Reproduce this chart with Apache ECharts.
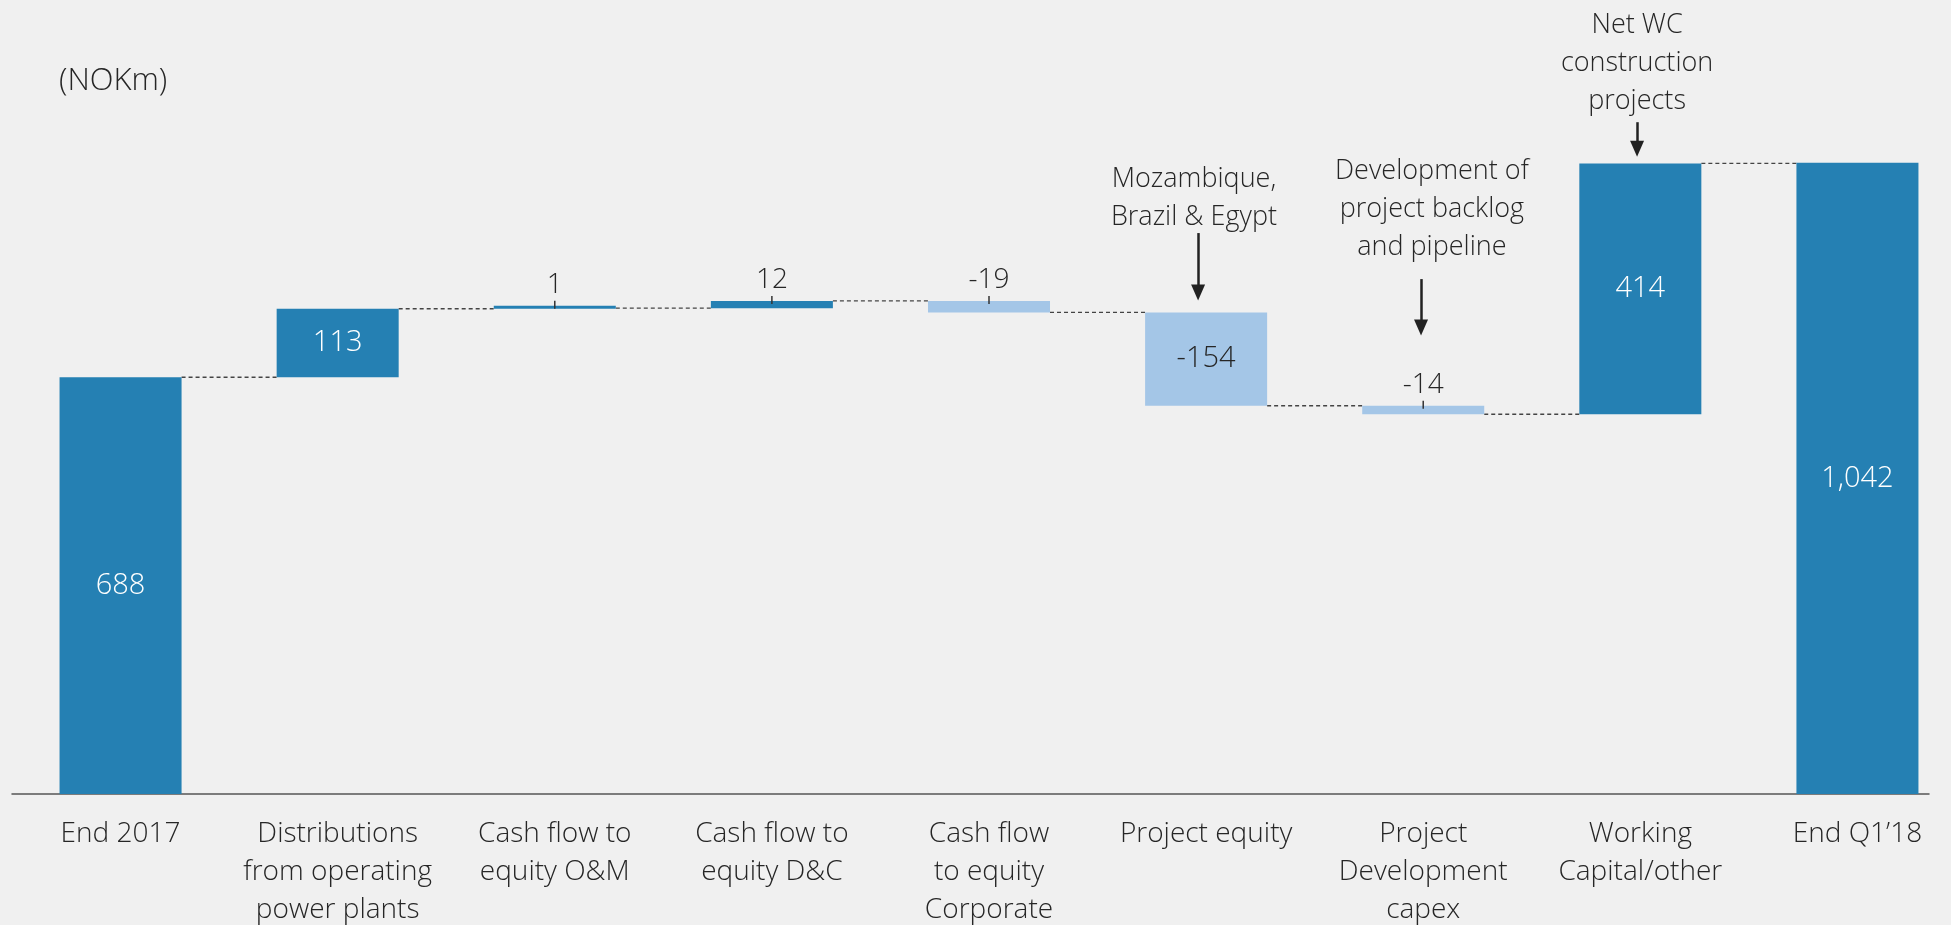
<!DOCTYPE html>
<html>
<head>
<meta charset="utf-8">
<script src="https://cdn.jsdelivr.net/npm/echarts@6/dist/echarts.min.js"></script>
<style>
html,body{margin:0;padding:0;background:#f0f0f0}
#main{width:1951px;height:925px}
</style>
</head>
<body>
<div id="main"></div>
<script>
// waterfall data (NOKm)
var categories = ['End 2017','Distributions\nfrom operating\npower plants','Cash flow to\nequity O&M','Cash flow to\nequity D&C','Cash flow\nto equity\nCorporate','Project equity','Project\nDevelopment\ncapex','Working\nCapital/other','End Q1\u201918'];
var deltas = [688,113,1,12,-19,-154,-14,414,1042];
var isTotal = [true,false,false,false,false,false,false,false,true];
var valueLabels = ['688','113','1','12','-19','-154','-14','414','1,042'];

// call-out notes with arrows (x on 0..8 category scale, y in NOKm)
var noteText = ['Mozambique,\nBrazil & Egypt','Development of\nproject backlog\nand pipeline','Net WC\nconstruction\nprojects'];
var noteTextX = [4.944, 6.04, 6.985];
var noteTextY = [984, 965, 1206];
var arrowX = [4.963, 5.99, 6.985];
var arrowFrom = [926, 850, 1109];
var arrowTo = [828, 770, 1065];

var darkBlue = '#2580b3';
var lightBlue = '#a4c6e7';
var textColor = '#262626';
var font = "'Open Sans', sans-serif";
var fw = 300;
var barRatio = 0.562;

var baseData = [];
var barData = [];
var levels = [];
var run = 0;
for(var i=0;i<deltas.length;i++){
  var d = deltas[i];
  var b, v;
  if(isTotal[i]){
    b = 0; v = d; run = d;
  }
  else{
    var prev = run;
    run = run + d;
    b = Math.min(prev, run);
    v = Math.abs(d);
  }
  levels.push(run);
  baseData.push(b);
  var small = Math.abs(d) < 50;
  var item = {
    value: v,
    itemStyle: {color: d < 0 ? lightBlue : darkBlue}
  };
  if(small){
    item.label = {
      show: true,
      position: 'top',
      distance: -3,
      formatter: '{v|' + valueLabels[i] + '}\n{t|}',
      rich: {
        v: {fontSize: 28, lineHeight: 31, color: textColor, fontFamily: font, fontWeight: fw, align: 'center'},
        t: {width: 1.5, height: 8, backgroundColor: '#333', align: 'center'}
      }
    };
  }
  else{
    item.label = {
      show: true,
      position: 'inside',
      formatter: valueLabels[i],
      fontSize: 29,
      fontFamily: font,
      fontWeight: fw,
      color: d < 0 ? textColor : '#ffffff'
    };
  }
  barData.push(item);
}

var connectors = [];
for(var k=0;k<levels.length-1;k++){
  connectors.push([k, levels[k]]);
}

var noteMarkLines = [];
var notePoints = [];
for(var n=0;n<noteText.length;n++){
  noteMarkLines.push([{coord:[arrowX[n], arrowFrom[n]]},{coord:[arrowX[n], arrowTo[n]]}]);
  notePoints.push({name: noteText[n], coord:[noteTextX[n], noteTextY[n]]});
}

var myChart = echarts.init(document.getElementById('main'));
var option = {
  backgroundColor: '#f0f0f0',
  animation: false,
  title: {
    text: '(NOKm)',
    left: 54,
    top: 61,
    textStyle: {fontSize: 31, fontWeight: fw, color: textColor, fontFamily: font}
  },
  grid: [
    {left: 12, top: 6.5, width: 1954, height: 787.5, containLabel: false, outerBoundsMode: 'none'},
    {left: 12, top: 6.5, width: 1917, height: 787.5, containLabel: false, outerBoundsMode: 'none'}
  ],
  xAxis: [
    {
      type: 'category',
      gridIndex: 0,
      data: categories,
      axisLine: {show: false},
      axisTick: {show: false},
      axisLabel: {interval: 0, margin: 21, fontSize: 28, fontWeight: fw, lineHeight: 38, color: textColor, fontFamily: font}
    },
    {
      type: 'value',
      gridIndex: 0,
      min: -0.5,
      max: 8.5,
      show: false
    },
    {
      type: 'value',
      gridIndex: 1,
      min: 0,
      max: 1,
      axisLine: {show: true, onZero: false, lineStyle: {color: '#555555', width: 1.5}},
      axisTick: {show: false},
      axisLabel: {show: false},
      splitLine: {show: false}
    }
  ],
  yAxis: [
    {type: 'value', gridIndex: 0, min: 0, max: 1300, show: false},
    {type: 'value', gridIndex: 1, min: 0, max: 1300, show: false}
  ],
  series: [
    {
      name: 'base',
      type: 'bar',
      stack: 'wf',
      barWidth: (barRatio*100) + '%',
      itemStyle: {color: 'transparent'},
      silent: true,
      data: baseData
    },
    {
      name: 'value',
      type: 'bar',
      stack: 'wf',
      barWidth: (barRatio*100) + '%',
      barMinHeight: 3,
      data: barData
    },
    {
      name: 'connector',
      type: 'custom',
      silent: true,
      data: connectors,
      renderItem: function(params, api){
        var k = api.value(0);
        var lv = api.value(1);
        var p1 = api.coord([k, lv]);
        var p2 = api.coord([k+1, lv]);
        var half = api.size([1,0])[0]*barRatio/2;
        return {
          type: 'line',
          shape: {x1: p1[0]+half, y1: p1[1], x2: p2[0]-half, y2: p2[1]},
          style: {stroke: '#444444', lineWidth: 1.4, lineDash: [4,3]}
        };
      }
    },
    {
      name: 'notes',
      type: 'scatter',
      xAxisIndex: 1,
      yAxisIndex: 0,
      data: [],
      silent: true,
      markLine: {
        silent: true,
        animation: false,
        symbol: ['none','triangle'],
        symbolSize: [14,16],
        lineStyle: {color: '#222222', width: 2.5, type: 'solid'},
        label: {show: false},
        data: noteMarkLines
      },
      markPoint: {
        silent: true,
        symbol: 'circle',
        symbolSize: 0,
        label: {show: true, position: 'inside', formatter: '{b}', fontSize: 27, fontWeight: fw, lineHeight: 38, color: textColor, fontFamily: font},
        data: notePoints
      }
    }
  ]
};
myChart.setOption(option);
</script>
</body>
</html>
